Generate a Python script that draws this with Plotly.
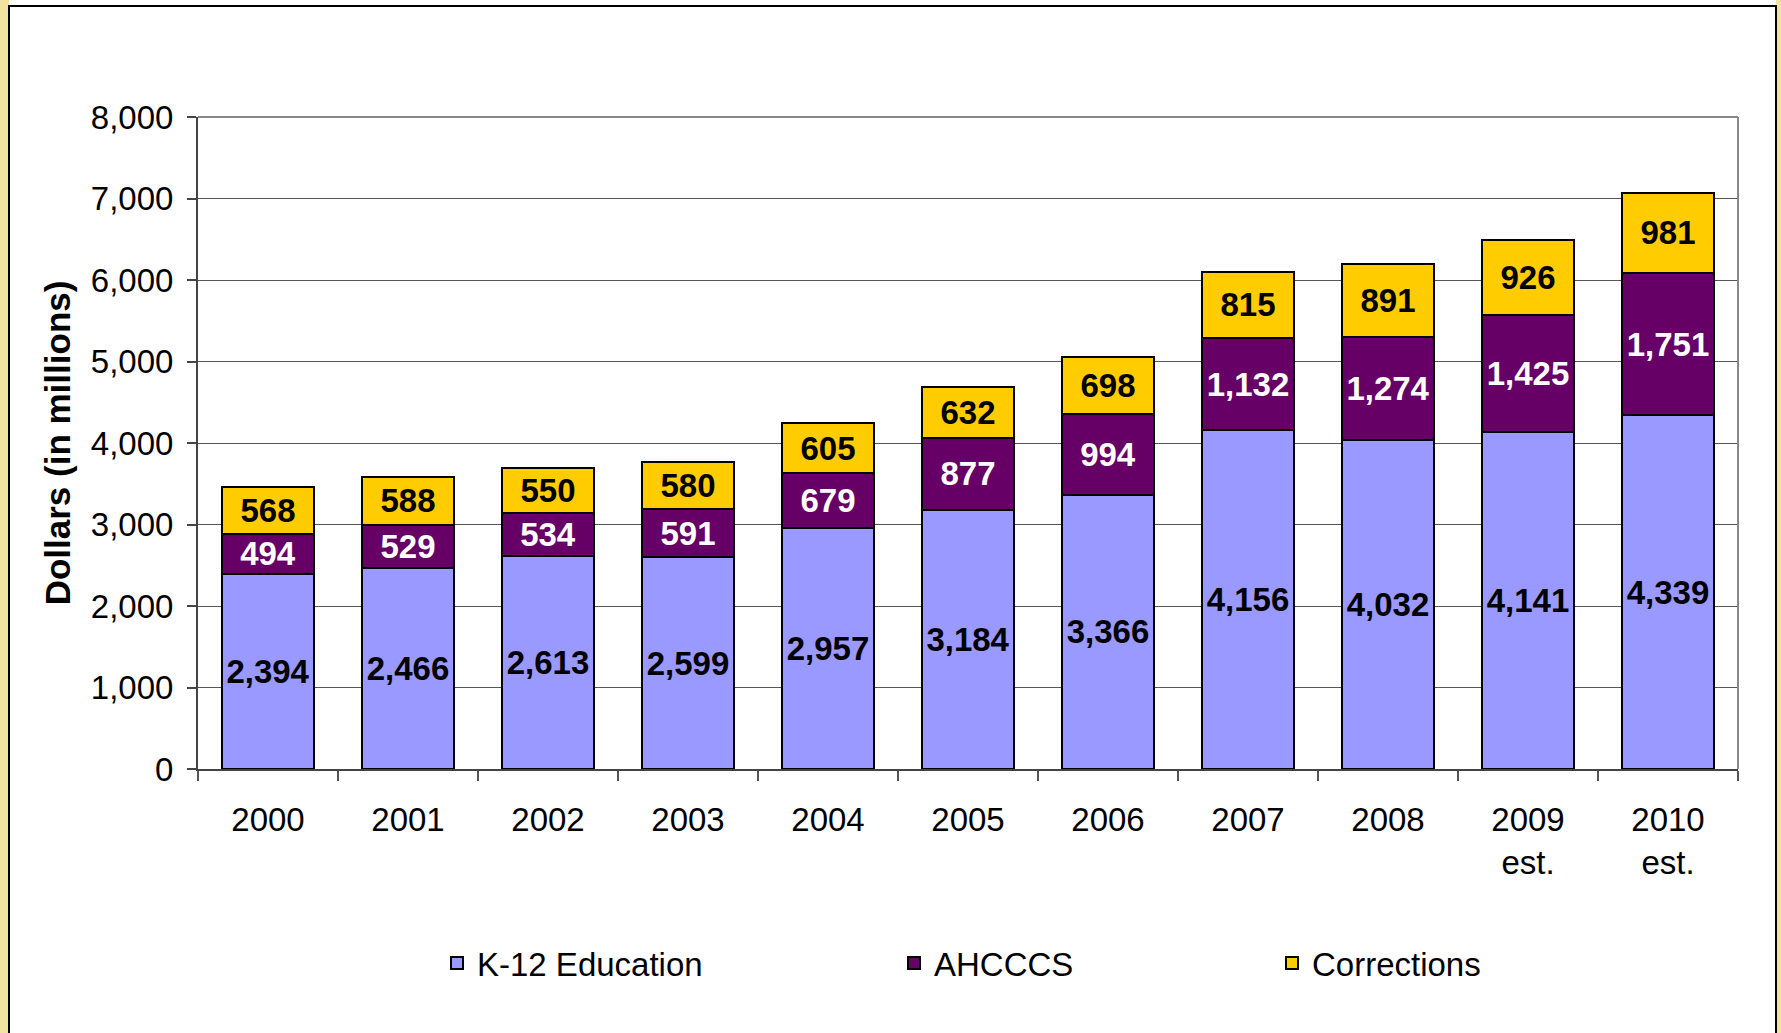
import plotly.graph_objects as go

years = ["2000", "2001", "2002", "2003", "2004", "2005", "2006", "2007", "2008", "2009<br>est.", "2010<br>est."]
k12 = [2394, 2466, 2613, 2599, 2957, 3184, 3366, 4156, 4032, 4141, 4339]
ahcccs = [494, 529, 534, 591, 679, 877, 994, 1132, 1274, 1425, 1751]
corrections = [568, 588, 550, 580, 605, 632, 698, 815, 891, 926, 981]
y_ticks = [0, 1000, 2000, 3000, 4000, 5000, 6000, 7000, 8000]

FONT = "Arial, Liberation Sans, sans-serif"
W, H = 1781, 1033
L, R, T, B = 198, 1738, 117, 769


def px_x(p):
    return (p - L) / (R - L)


def px_y(p):
    return (B - p) / (B - T)


series = [
    ("K-12 Education", k12, "#9999FF", "black", "legend"),
    ("AHCCCS", ahcccs, "#660066", "white", "legend2"),
    ("Corrections", corrections, "#FFCC00", "black", "legend3"),
]

fig = go.Figure()
for name, vals, color, tcolor, lg in series:
    fig.add_trace(go.Bar(
        x=years, y=vals, name=name,
        marker=dict(color=color, line=dict(color="black", width=2)),
        texttemplate="%{y:,}", textposition="inside", insidetextanchor="middle",
        textangle=0,
        insidetextfont=dict(family=FONT, size=33, color=tcolor, weight="bold"),
        legend=lg, showlegend=True, hoverinfo="skip",
    ))

shapes = [
    # outer textured strips
    dict(type="rect", xref="paper", yref="paper", x0=px_x(0), x1=px_x(9), y0=px_y(1033), y1=px_y(0),
         fillcolor="#F2E3A0", line=dict(width=0), layer="below"),
    dict(type="rect", xref="paper", yref="paper", x0=px_x(1776), x1=px_x(1781), y0=px_y(1033), y1=px_y(0),
         fillcolor="#F2E3A0", line=dict(width=0), layer="below"),
    # white frame
    dict(type="rect", xref="paper", yref="paper", x0=px_x(9), x1=px_x(1776), y0=px_y(1045), y1=px_y(6),
         fillcolor="white", line=dict(color="black", width=2), layer="below"),
    # gray plot border top and right
    dict(type="line", xref="paper", yref="paper", x0=0, x1=1, y0=1, y1=1,
         line=dict(color="#888888", width=2), layer="above"),
    dict(type="line", xref="paper", yref="paper", x0=1, x1=1, y0=0, y1=1,
         line=dict(color="#888888", width=2), layer="above"),
]

legend_common = dict(orientation="h", yanchor="middle", xanchor="left",
                     font=dict(family=FONT, size=33, color="black"),
                     bgcolor="rgba(0,0,0,0)", borderwidth=0)

fig.update_layout(
    width=W, height=H,
    margin=dict(l=L, r=W - R, t=T, b=H - B, autoexpand=False),
    paper_bgcolor="white", plot_bgcolor="white",
    barmode="stack", bargap=0.336,
    uniformtext=dict(minsize=33, mode="show"),
    font=dict(family=FONT, color="black"),
    shapes=shapes,
    showlegend=True,
    legend=dict(x=px_x(437), y=px_y(963), **legend_common),
    legend2=dict(x=px_x(894), y=px_y(963), **legend_common),
    legend3=dict(x=px_x(1272), y=px_y(963), **legend_common),
    xaxis=dict(
        type="category", tickson="boundaries", ticks="outside", ticklen=10,
        tickcolor="#555555", tickwidth=2, showline=True, linecolor="#444444", linewidth=2,
        tickfont=dict(family=FONT, size=33, color="black"), ticklabelstandoff=20,
        showgrid=False,
    ),
    yaxis=dict(
        range=[0, 8000], tickvals=y_ticks, tickformat=",", ticks="outside", ticklen=9,
        tickcolor="#444444", tickwidth=2, showline=True, linecolor="#444444", linewidth=2,
        showgrid=True, gridcolor="#555555", gridwidth=1,
        tickfont=dict(family=FONT, size=33, color="black"), ticklabelstandoff=7,
        title=dict(text="Dollars (in millions)", standoff=10,
                   font=dict(family=FONT, size=35, color="black", weight="bold")),
        zeroline=False,
    ),
)

fig.write_html("out.html", config={"displayModeBar": False},
               post_script="document.body.style.margin='0';document.body.style.overflow='hidden';")
